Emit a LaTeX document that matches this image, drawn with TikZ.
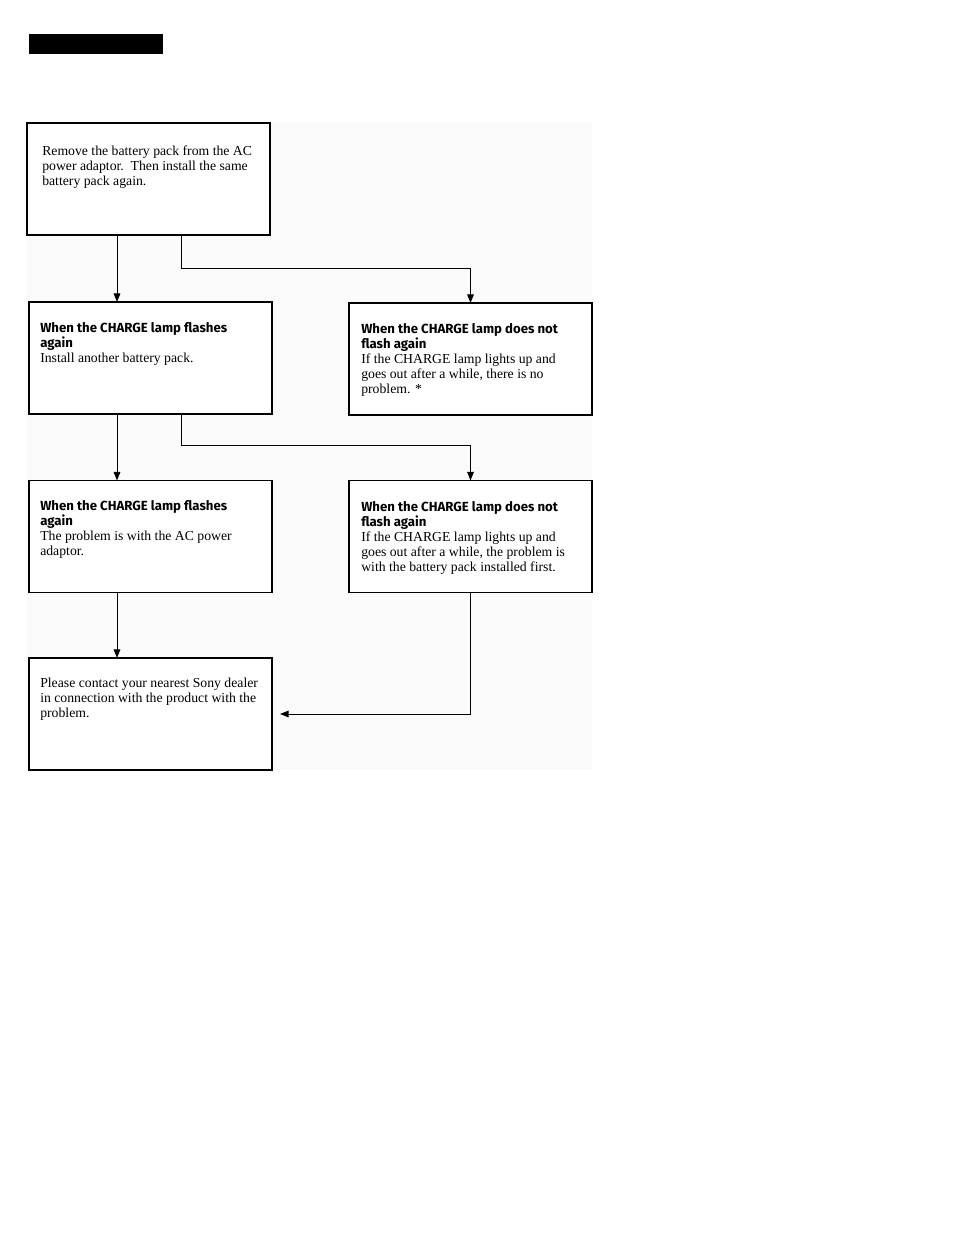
\documentclass[tikz,border=0pt]{standalone}
\usepackage{fontspec}
\setmainfont{Liberation Serif}
\newfontfamily\headfont{Fira Sans}
\usetikzlibrary{arrows.meta,calc}
\newcommand\boxhead[1]{{\headfont\bfseries\fontsize{9.9}{11.25}\selectfont #1}}
\begin{document}
\begin{tikzpicture}[x=0.75pt,y=-0.75pt,
 box/.style={draw,line width=0.95pt,minimum width=182.25pt,minimum height=84pt,inner sep=0,outer sep=0},
 txt/.style={anchor=north west,inner sep=0,align=left,font=\fontsize{10.3}{11.25}\selectfont},
 conn/.style={line width=0.75pt,-{Triangle[length=6.5pt,width=5pt]}},
 ]
\useasboundingbox (0,0) rectangle (954,1235);
\fill[white] (0,0) rectangle (954,1235);
\fill[black!2] (27,123) rectangle (592,770);
\fill[black] (29,34) rectangle (163,54);

\node[box,fill=white] (A) at (148.5,179) {};
\node[box,fill=white] (B) at (150.5,358) {};
\node[box,fill=white] (C) at (470.5,359) {};
\node[box,fill=white] (D) at (150.5,536.5) {};
\node[box,fill=white] (E) at (470.5,536.5) {};
\node[box,fill=white] (F) at (150.5,714) {};

\node[txt] (tA) at (42,146) {Remove the battery pack from the AC\\power adaptor.\ \ Then install the same\\battery pack again.};
\node[txt] (tB) at (40,322) {\boxhead{When the CHARGE lamp flashes}\\\boxhead{again}\\Install another battery pack.};
\node[txt] (tC) at (361,323) {\boxhead{When the CHARGE lamp does not}\\\boxhead{flash again}\\If the CHARGE lamp lights up and\\goes out after a while, there is no\\problem. *};
\node[txt] (tD) at (40,500) {\boxhead{When the CHARGE lamp flashes}\\\boxhead{again}\\The problem is with the AC power\\adaptor.};
\node[txt] (tE) at (361,501) {\boxhead{When the CHARGE lamp does not}\\\boxhead{flash again}\\If the CHARGE lamp lights up and\\goes out after a while, the problem is\\with the battery pack installed first.};
\node[txt] (tF) at (40,678) {Please contact your nearest Sony dealer\\in connection with the product with the\\problem.};

\coordinate (c1) at (117,0);
\coordinate (c2) at (181,0);
\coordinate (m1) at (0,268);
\coordinate (m2) at (0,445);

\draw[conn] (A.south -| c1) -- (B.north -| c1);
\draw[conn] (A.south -| c2) -- (c2 |- m1) -| (C.north);
\draw[conn] (B.south -| c1) -- (D.north -| c1);
\draw[conn] (B.south -| c2) -- (c2 |- m2) -| (E.north);
\draw[conn] (D.south -| c1) -- (F.north -| c1);
\draw[conn,shorten >=6pt] (E.south) |- (F.east);
\end{tikzpicture}
\end{document}
